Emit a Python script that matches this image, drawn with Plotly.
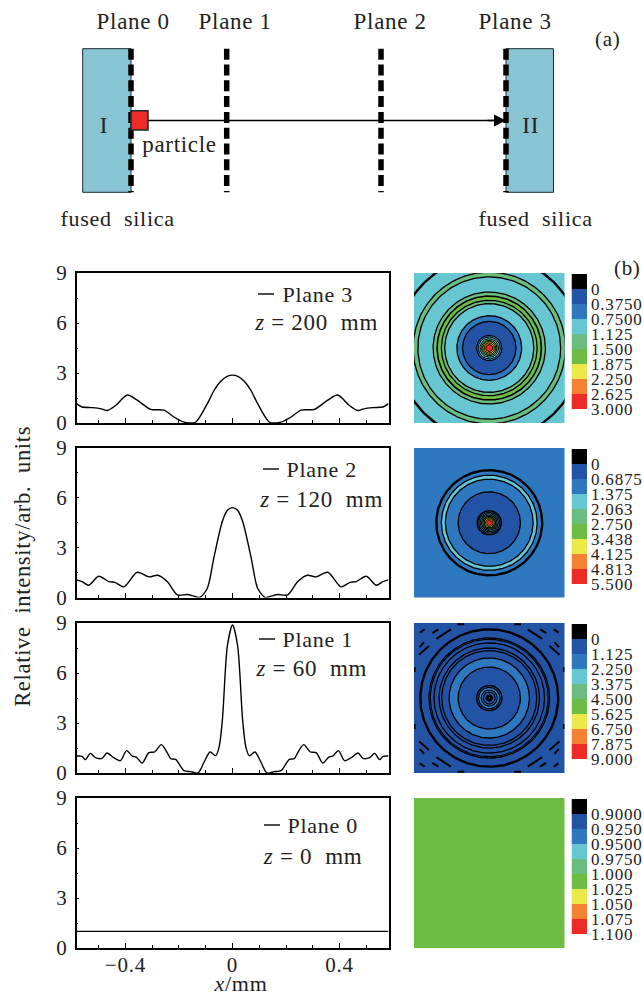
import numpy as np
import plotly.graph_objects as go

W, H = 644, 996
FONT = "Liberation Serif"
INK = "#222222"

# ---------- line profiles: half curves (mm, intensity), mirrored about x = 0
plane3_x = [-0.583, -0.562, -0.525, -0.49, -0.468, -0.437, -0.393, -0.356, -0.306, -0.256, -0.219, -0.181, -0.162, -0.137, -0.094, -0.069, -0.044, -0.02, 0]
plane3_y = [1.16, 0.96, 0.92, 0.85, 0.75, 1.05, 1.68, 1.37, 0.82, 0.77, 0.36, 0.05, 0.0, 0.06, 1.16, 1.95, 2.5, 2.8, 2.87]
plane2_x = [-0.583, -0.562, -0.5375, -0.5, -0.4625, -0.4375, -0.406, -0.356, -0.3125, -0.279, -0.244, -0.206, -0.169, -0.144, -0.1225, -0.094, -0.069, -0.0375, -0.019, 0]
plane2_y = [1.06, 0.96, 0.74, 1.28, 0.96, 0.9, 0.64, 1.52, 1.24, 1.34, 0.96, 0.16, 0.18, 0.08, 0.0, 0.56, 2.45, 4.6, 5.25, 5.41]
plane1_x = [-0.583, -0.562, -0.55, -0.531, -0.5125, -0.4875, -0.469, -0.444, -0.419, -0.396, -0.375, -0.359, -0.3375, -0.3125, -0.291, -0.266, -0.244, -0.231, -0.2125, -0.181, -0.156, -0.129, -0.106, -0.084, -0.0625, -0.05, -0.0375, -0.019, 0]
plane1_y = [1.02, 1.0, 0.8, 1.18, 0.92, 0.88, 1.2, 0.92, 0.74, 1.34, 1.02, 0.94, 0.6, 1.22, 1.26, 1.7, 1.22, 0.86, 0.82, 0.14, 0.08, 0.0, 0.66, 1.26, 1.04, 1.56, 3.25, 7.65, 8.88]
plane0_x = [-0.583, 0]
plane0_y = [1.0, 1.0]

# ---------- contour maps: rings outer to inner (radius mm, level index, line width)
map3_r = [1.2, 0.715, 0.59, 0.553, 0.435, 0.404, 0.371, 0.345, 0.251, 0.207, 0.098, 0.085, 0.072, 0.06, 0.05, 0.04, 0.027]
map3_c = [3, 3, 4, 3, 4, 5, 4, 3, 2, 1, 2, 3, 4, 5, 6, 7, 8]
map3_w = [0, 2.4, 1.3, 1.3, 1.3, 1.6, 1.3, 1.3, 1.3, 1.3, 1.1, 1.0, 1.0, 1.0, 1.0, 1.0, 1.0]
map2_r = [1.2, 0.41, 0.371, 0.34, 0.241, 0.094, 0.082, 0.07, 0.06, 0.05, 0.04, 0.03, 0.02]
map2_c = [2, 2, 3, 2, 1, 1, 2, 3, 4, 5, 6, 7, 8]
map2_w = [0, 2.4, 1.3, 1.3, 1.3, 1.5, 1.1, 1.1, 1.1, 1.1, 1.1, 1.0, 0.6]
map1_r = [1.2, 0.534, 0.467, 0.456, 0.428, 0.389, 0.368, 0.311, 0.241, 0.098, 0.083, 0.062, 0.047, 0.026, 0.008]
map1_c = [1, 1, 1, 1, 1, 1, 1, 2, 1, 1, 2, 2, 1, 0, 8]
map1_w = [0, 2.4, 1.3, 1.1, 1.3, 1.3, 1.3, 1.3, 1.3, 1.5, 1.1, 1.1, 1.1, 1.0, 0.3]
map0_r = [1.2]
map0_c = [5]
map0_w = [0]
# short contour pieces near the corners of the Plane 1 map, one quadrant (x1, y1, x2, y2 in mm)
map1_corner_pieces = [
    (-0.41, 0.46, -0.298, 0.534), (-0.441, 0.505, -0.394, 0.534), (-0.537, 0.508, -0.5, 0.534),
    (-0.544, 0.337, -0.467, 0.404), (-0.539, 0.396, -0.505, 0.435), (-0.246, 0.573, -0.194, 0.573),
    (-0.578, 0.241, -0.578, 0.202),
]

# ---------- colour-key
level_colors = ["#000000", "#2353a5", "#2e78bf", "#66c7d3", "#68bd7f", "#6dbd45", "#ece84a", "#f58232", "#ee2a27"]
key3_labels = ["0", "0.3750", "0.7500", "1.125", "1.500", "1.875", "2.250", "2.625", "3.000"]
key2_labels = ["0", "0.6875", "1.375", "2.063", "2.750", "3.438", "4.125", "4.813", "5.500"]
key1_labels = ["0", "1.125", "2.250", "3.375", "4.500", "5.625", "6.750", "7.875", "9.000"]
key0_labels = ["0.9000", "0.9250", "0.9500", "0.9750", "1.000", "1.025", "1.050", "1.075", "1.100"]

# ---------- texts of the panels
plane_names = ["Plane 3", "Plane 2", "Plane 1", "Plane 0"]
plane_z = ["200", "120", "60", "0"]
x_major = [-0.4, 0, 0.4]
x_major_text = ["\u22120.4", "0", "0.4"]
y_major = [0, 3, 6, 9]

# ---------- layout in page pixels
line_top = [273, 448, 623, 798]
line_bot = [423, 597.5, 773, 948]
key_top = [274, 449, 624, 799]
key_bot = [409, 584, 759, 934]
legend_line_x = [258, 263, 259, 264]
legend_line_y = [294, 469, 639, 825]
legend_text_x = [283, 287, 283, 288]
z_text_x = [256, 261, 257, 264]
z_text_y = [322, 499, 668, 856]


def fx(p):
    return p / W


def fy(p):
    return 1 - p / H


fig = go.Figure()
layout = {}
ann = []
shapes = []


def text(x, y, s, size=20, anchor="center", **kw):
    ann.append(dict(x=fx(x), y=fy(y), xref="paper", yref="paper", text=s, showarrow=False,
                    xanchor=anchor, yanchor="middle", font=dict(family=FONT, size=size, color=INK), **kw))


def line(x0, y0, x1, y1, w=1.3, dash=None, color="black"):
    shapes.append(dict(type="line", xref="paper", yref="paper", x0=fx(x0), y0=fy(y0), x1=fx(x1), y1=fy(y1),
                       line=dict(color=color, width=w, dash=dash)))


def rect(x0, y0, x1, y1, fill, w=1.0):
    shapes.append(dict(type="rect", xref="paper", yref="paper", x0=fx(x0), y0=fy(y0), x1=fx(x1), y1=fy(y1),
                       fillcolor=fill, line=dict(color="#1c2a30", width=w)))


profiles = [(plane3_x, plane3_y), (plane2_x, plane2_y), (plane1_x, plane1_y), (plane0_x, plane0_y)]
maps = [(map3_r, map3_c, map3_w), (map2_r, map2_c, map2_w), (map1_r, map1_c, map1_w), (map0_r, map0_c, map0_w)]
keys = [key3_labels, key2_labels, key1_labels, key0_labels]
theta = np.linspace(0, 2 * np.pi, 241)
key_scale = [[j / 9, c] for i, c in enumerate(level_colors) for j in (i, i + 1)]

for i in range(4):
    a, b, c = 3 * i + 1, 3 * i + 2, 3 * i + 3
    hx, hy = profiles[i]
    xs = list(hx) + [-v for v in hx[-2::-1]]
    ys = list(hy) + list(hy[-2::-1])
    fig.add_trace(go.Scatter(x=xs, y=ys, mode="lines", xaxis=f"x{a}", yaxis=f"y{a}", showlegend=False,
                             name=plane_names[i],
                             line=dict(color="black", width=1.4, shape="spline", smoothing=0.8)))
    layout[f"xaxis{a}"] = dict(domain=[fx(76.5), fx(388.5)], anchor=f"y{a}", range=[-0.583, 0.583],
                               tickvals=x_major, ticktext=x_major_text if i == 3 else ["", "", ""],
                               ticks="inside", ticklen=5, tickwidth=1, tickcolor="black",
                               minor=dict(dtick=0.1, tick0=0, ticks="inside", ticklen=3, tickwidth=1, tickcolor="black"),
                               showline=True, linecolor="black", linewidth=1.5, mirror=True, showgrid=False, zeroline=False,
                               ticklabelstandoff=-3,
                               tickfont=dict(family=FONT, size=21, color=INK))
    layout[f"yaxis{a}"] = dict(domain=[fy(line_bot[i]), fy(line_top[i])], anchor=f"x{a}", range=[0, 9],
                               tickvals=y_major, ticks="inside", ticklen=3, tickwidth=1, tickcolor="black",
                               minor=dict(dtick=1.5, tick0=0, ticks="inside", ticklen=2, tickwidth=1, tickcolor="black"),
                               showline=True, linecolor="black", linewidth=1.5, mirror=True, showgrid=False, zeroline=False,
                               ticklabelstandoff=3, tickfont=dict(family=FONT, size=21, color=INK))
    rr, cc, ww = maps[i]
    for r, col, w in zip(rr, cc, ww):
        fig.add_trace(go.Scatter(x=r * np.cos(theta), y=r * np.sin(theta), mode="lines", fill="toself",
                                 fillcolor=level_colors[col], xaxis=f"x{b}", yaxis=f"y{b}", showlegend=False,
                                 hoverinfo="skip", line=dict(color="black", width=w if w else 0)))
    if i == 2:
        for x1, y1, x2, y2 in map1_corner_pieces:
            for sx in (1, -1):
                for sy in (1, -1):
                    fig.add_trace(go.Scatter(x=[sx * x1, sx * x2], y=[sy * y1, sy * y2], mode="lines",
                                             xaxis=f"x{b}", yaxis=f"y{b}", showlegend=False, hoverinfo="skip",
                                             line=dict(color="black", width=2)))
    layout[f"xaxis{b}"] = dict(domain=[fx(414), fx(564.5)], anchor=f"y{b}", range=[-0.583, 0.583], visible=False)
    layout[f"yaxis{b}"] = dict(domain=[fy(line_bot[i]), fy(line_top[i])], anchor=f"x{b}", range=[-0.583, 0.583], visible=False)
    fig.add_trace(go.Heatmap(z=[[k] for k in range(9)], x=[0], y=list(range(9)), zmin=-0.5, zmax=8.5,
                             colorscale=key_scale, showscale=False, hoverinfo="skip",
                             xaxis=f"x{c}", yaxis=f"y{c}"))
    layout[f"xaxis{c}"] = dict(domain=[fx(571.5), fx(587)], anchor=f"y{c}", visible=False, range=[-0.5, 0.5])
    layout[f"yaxis{c}"] = dict(domain=[fy(key_bot[i]), fy(key_top[i])], anchor=f"x{c}", side="right", range=[8.5, -0.5],
                               tickvals=[k + 0.5 for k in range(9)], ticktext=keys[i], ticks="", showgrid=False,
                               zeroline=False, showline=False, ticklabelstandoff=3,
                               tickfont=dict(family=FONT, size=17, color=INK))
    line(legend_line_x[i], legend_line_y[i], legend_line_x[i] + 16, legend_line_y[i], w=1.4)
    text(legend_text_x[i], legend_line_y[i], plane_names[i], size=22, anchor="left")
    text(z_text_x[i], z_text_y[i], f"<i>z</i> = {plane_z[i]} \u00a0mm", size=23, anchor="left")

# ---------- schematic (a)
rect(82.7, 48.7, 131, 192.3, "#89c4d2")
rect(506, 48.7, 553.5, 192.3, "#89c4d2")
for xp in (131, 226.7, 381, 506):
    line(xp, 48.7, xp, 192.3, w=5.5, dash="11px,4.8px")
line(148, 120.5, 500, 120.5, w=1.3)
rect(131, 110.7, 148, 130, "#ee2a27", w=1.5)
ann.append(dict(x=fx(506), y=fy(120.5), xref="paper", yref="paper", ax=-20, ay=0, axref="pixel", ayref="pixel",
                text="", showarrow=True, arrowhead=2, arrowsize=1.6, arrowwidth=1.5, arrowcolor="black"))
for xp, name in zip((133, 235, 390, 515), ("Plane 0", "Plane 1", "Plane 2", "Plane 3")):
    text(xp, 21, name, size=23)
text(607, 39, "(a)", size=21)
text(104, 125, "I", size=23)
text(530, 125, "II", size=23)
text(179, 144, "particle", size=23)
text(117, 219, "fused\u00a0\u00a0silica", size=22)
text(535, 218, "fused\u00a0\u00a0silica", size=22)
text(627, 268, "(b)", size=21)
text(240, 983, "<i>x</i>/mm", size=22)
ann.append(dict(x=fx(22), y=fy(567), xref="paper", yref="paper", text="Relative\u00a0\u00a0intensity/arb.\u00a0\u00a0units",
                showarrow=False, textangle=-90, xanchor="center", yanchor="middle",
                font=dict(family=FONT, size=22.5, color=INK)))

fig.update_layout(template="none", width=W, height=H, autosize=False, margin=dict(l=0, r=0, t=0, b=0),
                  paper_bgcolor="white", plot_bgcolor="white", showlegend=False, annotations=ann, shapes=shapes, **layout)
spacing = """
document.body.style.margin='0';document.body.style.overflow='hidden';
document.querySelectorAll('.annotation-text').forEach(t=>t.style.letterSpacing='0.7px');
document.querySelectorAll('[class$="tick"] text').forEach(t=>t.style.letterSpacing='0.8px');
"""
fig.write_html("out.html", post_script=spacing, config={"displayModeBar": False})
